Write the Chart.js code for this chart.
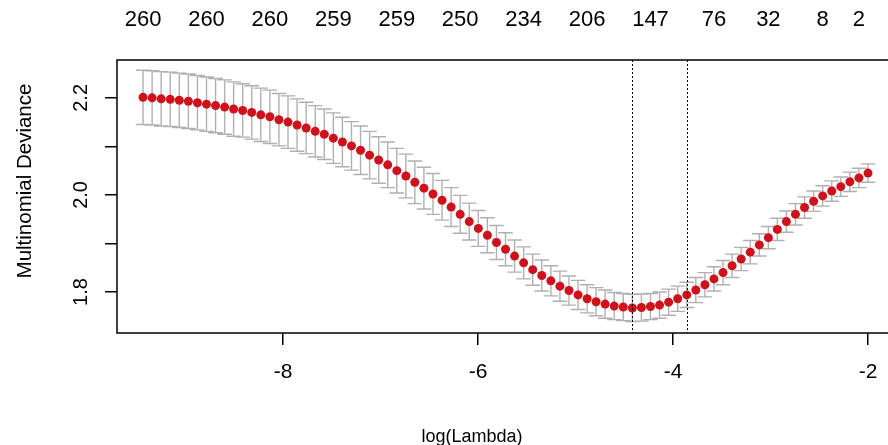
<!DOCTYPE html>
<html>
<head>
<meta charset="utf-8">
<script src="https://cdn.jsdelivr.net/npm/chart.js@4"></script>
<style>
  html, body { margin: 0; padding: 0; background: #fff; }
  canvas { display: block; }
</style>
</head>
<body>
<canvas id="cvChart" width="888" height="445"></canvas>
<script>
// DATA
const logLambda = [
    -9.436, -9.343, -9.250, -9.157, -9.064, -8.971, -8.878, -8.785, -8.692, -8.599,
    -8.507, -8.414, -8.321, -8.228, -8.135, -8.042, -7.949, -7.856, -7.763, -7.670,
    -7.577, -7.484, -7.391, -7.298, -7.205, -7.112, -7.019, -6.926, -6.833, -6.740,
    -6.648, -6.555, -6.462, -6.369, -6.276, -6.183, -6.090, -5.997, -5.904, -5.811,
    -5.718, -5.625, -5.532, -5.439, -5.346, -5.253, -5.160, -5.067, -4.974, -4.881,
    -4.789, -4.696, -4.603, -4.510, -4.417, -4.324, -4.231, -4.138, -4.045, -3.952,
    -3.859, -3.766, -3.673, -3.580, -3.487, -3.394, -3.301, -3.208, -3.115, -3.022,
    -2.930, -2.837, -2.744, -2.651, -2.558, -2.465, -2.372, -2.279, -2.186, -2.093,
    -2.000
];

const cvMean = [
    2.201, 2.200, 2.198, 2.197, 2.195, 2.193, 2.190, 2.187, 2.184, 2.181,
    2.177, 2.174, 2.170, 2.165, 2.161, 2.155, 2.150, 2.144, 2.138, 2.131,
    2.125, 2.117, 2.109, 2.101, 2.092, 2.082, 2.072, 2.062, 2.050, 2.039,
    2.026, 2.014, 2.002, 1.989, 1.975, 1.960, 1.945, 1.931, 1.917, 1.902,
    1.888, 1.874, 1.860, 1.846, 1.834, 1.823, 1.812, 1.803, 1.794, 1.786,
    1.780, 1.775, 1.771, 1.769, 1.767, 1.768, 1.770, 1.773, 1.779, 1.786,
    1.794, 1.804, 1.815, 1.827, 1.840, 1.854, 1.868, 1.882, 1.897, 1.912,
    1.929, 1.945, 1.960, 1.974, 1.987, 1.998, 2.008, 2.017, 2.027, 2.035,
    2.045
];

const cvSd = [
    0.056, 0.056, 0.056, 0.056, 0.056, 0.056, 0.056, 0.056, 0.056, 0.056,
    0.056, 0.055, 0.055, 0.055, 0.055, 0.054, 0.054, 0.054, 0.053, 0.053,
    0.052, 0.052, 0.051, 0.050, 0.050, 0.049, 0.048, 0.047, 0.046, 0.045,
    0.044, 0.043, 0.042, 0.041, 0.040, 0.039, 0.038, 0.037, 0.036, 0.035,
    0.034, 0.033, 0.033, 0.032, 0.032, 0.031, 0.031, 0.030, 0.030, 0.029,
    0.029, 0.029, 0.028, 0.028, 0.028, 0.028, 0.027, 0.027, 0.027, 0.026,
    0.026, 0.026, 0.025, 0.025, 0.025, 0.024, 0.024, 0.024, 0.023, 0.023,
    0.023, 0.022, 0.022, 0.022, 0.021, 0.021, 0.021, 0.020, 0.020, 0.020,
    0.019
];

// nonzero counts along the top
const topTickPos = [-9.436, -8.785, -8.135, -7.484, -6.833, -6.183, -5.532, -4.881, -4.231, -3.580, -3.022, -2.465, -2.093];
const topTickLabels = ["260", "260", "260", "259", "259", "250", "234", "206", "147", "76", "32", "8", "2"];

const xTicks = [-8, -6, -4, -2];
const yTicks = [1.8, 1.9, 2.0, 2.1, 2.2];
const yTickLabels = { "1.8": "1.8", "2": "2.0", "2.2": "2.2" };

const lambdaMin = -4.417;
const lambda1se = -3.859;

const xTitle = "log(Lambda)";
const yTitle = "Multinomial Deviance";

// LOOK
const FONT = "'Liberation Sans', Arial, sans-serif";
const FS = 21;
const BAR_W = 0.0744; // half width of caps, x units

// PLUGIN: error bars, box, dotted lines, rotated y labels, titles
const rPlot = {
    id: "rPlot",
    beforeDatasetsDraw(chart) {
        const c = chart.ctx;
        const xs = chart.scales.x, ys = chart.scales.y;
        c.save();
        c.strokeStyle = "#b0b0b0";
        c.lineWidth = 1.4;
        c.beginPath();
        for (let i = 0; i < logLambda.length; i++) {
            const x = xs.getPixelForValue(logLambda[i]);
            const x0 = xs.getPixelForValue(logLambda[i] - BAR_W);
            const x1 = xs.getPixelForValue(logLambda[i] + BAR_W);
            const yu = ys.getPixelForValue(cvMean[i] + cvSd[i]);
            const yl = ys.getPixelForValue(cvMean[i] - cvSd[i]);
            c.moveTo(x, yu); c.lineTo(x, yl);
            c.moveTo(x0, yu); c.lineTo(x1, yu);
            c.moveTo(x0, yl); c.lineTo(x1, yl);
        }
        c.stroke();
        c.restore();
    },
    afterDatasetsDraw(chart) {
        const c = chart.ctx;
        const a = chart.chartArea;
        const xs = chart.scales.x, ys = chart.scales.y;
        c.save();

        // dotted lines
        c.strokeStyle = "#000";
        c.lineWidth = 1;
        c.setLineDash([2, 2]);
        [lambdaMin, lambda1se].forEach(v => {
            const x = Math.round(xs.getPixelForValue(v)) + 0.5;
            c.beginPath();
            c.moveTo(x, a.top); c.lineTo(x, a.bottom);
            c.stroke();
        });
        c.setLineDash([]);

        // box (right side falls off the canvas)
        c.lineWidth = 1.5;
        c.beginPath();
        c.moveTo(a.right + 5, a.top); c.lineTo(a.left, a.top);
        c.lineTo(a.left, a.bottom); c.lineTo(a.right + 5, a.bottom);
        c.stroke();

        // y labels, rotated like R
        c.fillStyle = "#000";
        c.font = (FS - 1) + "px " + FONT;
        c.textAlign = "center";
        c.textBaseline = "middle";
        yTicks.forEach(v => {
            const lab = yTickLabels[String(v)];
            if (!lab) return;
            const y = ys.getPixelForValue(v);
            c.save();
            c.translate(a.left - 36, y);
            c.rotate(-Math.PI / 2);
            c.fillText(lab, 0, 0);
            c.restore();
        });

        // axis titles
        c.font = "20.5px " + FONT;
        c.save();
        c.translate(25, 181);
        c.rotate(-Math.PI / 2);
        c.fillText(yTitle, 0, 0);
        c.restore();

        c.font = "18px " + FONT;
        c.fillText(xTitle, 472, 437);
        c.restore();
    }
};

function noSidePad(s) {
    s.paddingLeft = 0;
    s.paddingRight = 0;
}

const ctx = document.getElementById("cvChart");

new Chart(ctx, {
    type: "scatter",
    data: {
        datasets: [{
            data: logLambda.map((x, i) => ({ x: x, y: cvMean[i] })),
            pointRadius: 4.5,
            pointBackgroundColor: "#cf111b",
            pointBorderWidth: 0,
            showLine: false,
            clip: false
        }]
    },
    options: {
        responsive: false,
        animation: false,
        devicePixelRatio: 1,
        layout: { autoPadding: false, padding: { left: 0, right: 0, top: 0, bottom: 0 } },
        plugins: {
            legend: { display: false },
            tooltip: { enabled: false }
        },
        scales: {
            x: {
                type: "linear",
                position: "bottom",
                min: -9.703,
                max: -1.795,
                afterBuildTicks: s => { s.ticks = xTicks.map(v => ({ value: v })); },
                afterFit: s => { s.height = 112; noSidePad(s); },
                grid: { drawOnChartArea: false, drawTicks: true, tickLength: 12, color: "#000", lineWidth: 1.5 },
                border: { display: false },
                ticks: {
                    color: "#000",
                    font: { family: FONT, size: FS },
                    padding: 15,
                    maxRotation: 0,
                    autoSkip: false,
                    callback: v => String(v)
                }
            },
            x2: {
                type: "linear",
                position: "top",
                min: -9.703,
                max: -1.795,
                afterBuildTicks: s => { s.ticks = topTickPos.map(v => ({ value: v })); },
                afterFit: s => { s.height = 60; noSidePad(s); },
                grid: { display: false, drawTicks: false },
                border: { display: false },
                ticks: {
                    color: "#000",
                    font: { family: FONT, size: 22 },
                    padding: 27,
                    maxRotation: 0,
                    autoSkip: false,
                    callback: (v, i) => topTickLabels[i]
                }
            },
            y: {
                type: "linear",
                min: 1.7155,
                max: 2.278,
                afterBuildTicks: s => { s.ticks = yTicks.map(v => ({ value: v })); },
                afterFit: s => { s.width = 117; },
                grid: { drawOnChartArea: false, drawTicks: true, tickLength: 12, color: "#000", lineWidth: 1.5 },
                border: { display: false },
                ticks: { display: false }
            }
        }
    },
    plugins: [rPlot]
});
</script>
</body>
</html>
